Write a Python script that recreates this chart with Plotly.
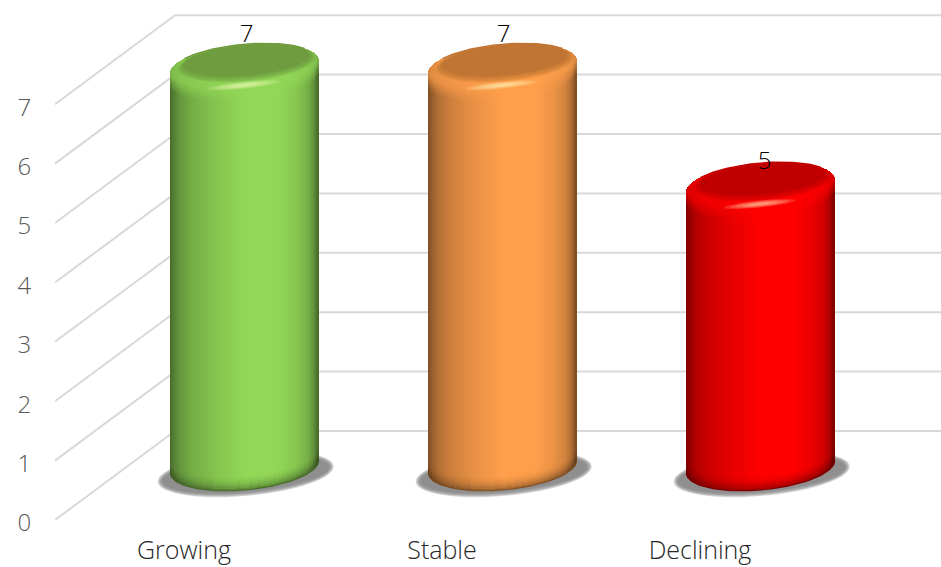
import numpy as np
import plotly.graph_objects as go

# Chart content
categories = ["Growing", "Stable", "Declining"]
values = [7, 7, 5]
y_ticks = [0, 1, 2, 3, 4, 5, 6, 7]
body_colors = [(146, 216, 87), (255, 159, 75), (255, 0, 0)]
cap_colors = [(111, 156, 62), (192, 117, 52), (192, 0, 0)]
label_lift_px = [23.5, 23.5, 16]
label_shift_px = [2, 1, 4]

# Pixels per axis unit, and the oblique depth of the floor
X_UNIT = 258.0
Y_UNIT = 59.4
PLOT_W = 886
LEFT, BOTTOM = 55, 34
DEPTH_X = 120 / X_UNIT
DEPTH_Y = 89 / Y_UNIT
X_RANGE = [-0.5, -0.5 + PLOT_W / X_UNIT]
Y_RANGE = [-13 / Y_UNIT, 520 / Y_UNIT]

# Cylinder proportions, in pixels
RADIUS = 74
TOP_B = 22.5
BASE_B = 23
SHEAR = 0.085
TOP_DROP = 7
BASE_RISE = 8.5

# Brightness across a cylinder wall, left edge to right edge
SHADE_U = [0, 0.03, 0.07, 0.15, 0.3, 0.5, 0.72, 0.85, 0.93, 0.97, 1]
SHADE_F = [0.50, 0.60, 0.70, 0.80, 0.90, 1.0, 1.0, 0.92, 0.82, 0.68, 0.48]


def center_x(i):
    return i + DEPTH_X / 2 + 0.7 / X_UNIT


def top_center(v):
    return v + DEPTH_Y / 2 - TOP_DROP / Y_UNIT


def base_center():
    return DEPTH_Y / 2 + BASE_RISE / Y_UNIT


def shaded(rgb, factor, light=0.0):
    f = min(1.0, factor + (1 - factor) * light)
    return "rgb(%d,%d,%d)" % tuple(int(round(c * f)) for c in rgb)


def ellipse(cx, cy, a, b, shear=SHEAR, n=90):
    t = np.linspace(0, 2 * np.pi, n)
    return (
        cx + a * np.cos(t) / X_UNIT,
        cy + (shear * a * np.cos(t) + b * np.sin(t)) / Y_UNIT,
    )


def svg_path(xs, ys):
    pts = ["%.5f,%.5f" % p for p in zip(xs, ys)]
    return "M" + " L".join(pts) + " Z"


# Every cylinder is a run of one-pixel columns, each split into shaded pieces
bar_x, bar_base, bar_h, bar_color = [], [], [], []


def add_piece(x, y0, y1, color):
    if y1 > y0:
        bar_x.append(x)
        bar_base.append(y0)
        bar_h.append(y1 - y0)
        bar_color.append(color)


for i, (v, rgb) in enumerate(zip(values, body_colors)):
    cx, ty, by = center_x(i), top_center(v), base_center()
    for ox in np.arange(-RADIUS, RADIUS) + 0.5:
        sq = np.sqrt(max(0.0, 1 - (ox / RADIUS) ** 2))
        f = float(np.interp((ox + RADIUS) / (2 * RADIUS), SHADE_U, SHADE_F))
        x = cx + ox / X_UNIT
        base_edge = by + (SHEAR * ox - BASE_B * sq) / Y_UNIT
        top_edge = ty + (SHEAR * ox + TOP_B * sq) / Y_UNIT
        front_edge = ty + (SHEAR * ox - TOP_B * sq) / Y_UNIT

        # darkening towards the rounded bottom edge
        y = base_edge
        for k in range(8):
            step = 2 / Y_UNIT
            add_piece(x, y, y + step, shaded(rgb, f * (0.62 + 0.38 * (1 - (1 - (k + 0.5) / 8) ** 2))))
            y += step
        # plain wall
        fade_start = front_edge - 12 / Y_UNIT
        add_piece(x, y, fade_start, shaded(rgb, f))
        y = max(y, fade_start)
        # lighter bevel just under the lid
        for k in range(7):
            step = 2 / Y_UNIT
            add_piece(x, y, y + step, shaded(rgb, f, 0.7 * (k + 0.5) / 7))
            y += step
        add_piece(x, y, top_edge, shaded(rgb, f, 0.7))

fig = go.Figure()
fig.add_trace(
    go.Bar(
        x=bar_x,
        y=bar_h,
        base=bar_base,
        width=1 / X_UNIT,
        marker=dict(color=bar_color, line=dict(width=0)),
        showlegend=False,
        hoverinfo="skip",
    )
)

# Lids, bevel and specular glint
for i, (v, rgb, cap) in enumerate(zip(values, body_colors, cap_colors)):
    cx, ty = center_x(i) + 2 / X_UNIT, top_center(v)
    for k in range(6, -1, -1):
        a = 63 + k * 0.9
        b = 15.5 + k * 0.5
        cy = ty + 6.5 / Y_UNIT - (k * 0.5) / Y_UNIT
        xs, ys = ellipse(cx, cy, a, b)
        alpha = 1.0 if k == 0 else 0.22
        fig.add_trace(
            go.Scatter(
                x=xs,
                y=ys,
                mode="lines",
                line=dict(width=0),
                fill="toself",
                fillcolor="rgba(%d,%d,%d,%.2f)" % (*cap, alpha),
                showlegend=False,
                hoverinfo="skip",
            )
        )
    # soft rim along the back edge of the lid
    t = np.linspace(0.2 * np.pi, 0.8 * np.pi, 50)
    ox = RADIUS * np.cos(t)
    fig.add_trace(
        go.Scatter(
            x=center_x(i) + ox / X_UNIT,
            y=ty + (SHEAR * ox + TOP_B * np.sin(t)) / Y_UNIT,
            mode="lines",
            line=dict(width=1.5, color="rgb(%d,%d,%d)" % cap),
            showlegend=False,
            hoverinfo="skip",
        )
    )
    # glint on the front of the bevel
    for k in range(5):
        xs, ys = ellipse(
            center_x(i) - 1 / X_UNIT,
            ty - 18.5 / Y_UNIT,
            36 - k * 6,
            3.6 - k * 0.6,
            shear=0.1,
        )
        fig.add_trace(
            go.Scatter(
                x=xs,
                y=ys,
                mode="lines",
                line=dict(width=0),
                fill="toself",
                fillcolor="rgba(255,255,200,0.16)",
                showlegend=False,
                hoverinfo="skip",
            )
        )

# Smooth line along the lower edge of each cylinder
for i, rgb in enumerate(body_colors):
    t = np.linspace(np.pi, 2 * np.pi, 80)
    ox = RADIUS * np.cos(t)
    fig.add_trace(
        go.Scatter(
            x=center_x(i) + ox / X_UNIT,
            y=base_center() + (SHEAR * ox + BASE_B * np.sin(t)) / Y_UNIT,
            mode="lines",
            line=dict(width=1.2, color=shaded(rgb, 0.5)),
            showlegend=False,
            hoverinfo="skip",
        )
    )

# Value labels above the lids
fig.add_trace(
    go.Scatter(
        x=[center_x(i) + s / X_UNIT for i, s in enumerate(label_shift_px)],
        y=[v + DEPTH_Y / 2 + lift / Y_UNIT for v, lift in zip(values, label_lift_px)],
        mode="text",
        text=[str(v) for v in values],
        textposition="middle center",
        textfont=dict(family="Open Sans", size=24, color="#000000", weight=300),
        showlegend=False,
        hoverinfo="skip",
    )
)

# Wall and side gridlines, and the soft floor shadows, sit behind the marks
shapes = []
for t in y_ticks:
    shapes.append(
        dict(type="line", xref="x", yref="y", layer="below",
             x0=X_RANGE[0], y0=t, x1=X_RANGE[0] + DEPTH_X, y1=t + DEPTH_Y,
             line=dict(color="#d9d9d9", width=2))
    )
    shapes.append(
        dict(type="line", xref="x", yref="y", layer="below",
             x0=X_RANGE[0] + DEPTH_X, y0=t + DEPTH_Y, x1=X_RANGE[1], y1=t + DEPTH_Y,
             line=dict(color="#d9d9d9", width=2))
    )
for i in range(len(categories)):
    for k in range(6):
        xs, ys = ellipse(
            center_x(i) + 1 / X_UNIT,
            base_center() - 7 / Y_UNIT,
            88 - k * 1.0,
            22 - k * 0.9,
        )
        shapes.append(
            dict(type="path", xref="x", yref="y", layer="below",
                 path=svg_path(xs, ys), line=dict(width=0),
                 fillcolor="rgba(130,130,130,0.3)")
        )

fig.update_layout(
    width=941,
    height=567,
    margin=dict(l=LEFT, r=0, t=0, b=BOTTOM, pad=0, autoexpand=False),
    paper_bgcolor="white",
    plot_bgcolor="white",
    barmode="overlay",
    bargap=0,
    showlegend=False,
    hovermode=False,
    shapes=shapes,
    xaxis=dict(
        range=X_RANGE,
        automargin=False,
        tickmode="array",
        tickvals=list(range(len(categories))),
        ticktext=categories,
        showgrid=False,
        zeroline=False,
        showline=False,
        ticks="",
        tickfont=dict(family="Open Sans", size=25, color="#262626", weight=300),
    ),
    yaxis=dict(
        range=Y_RANGE,
        automargin=False,
        tickmode="array",
        tickvals=y_ticks,
        showgrid=False,
        zeroline=False,
        showline=False,
        ticks="outside",
        ticklen=18,
        tickcolor="rgba(0,0,0,0)",
        ticklabelshift=3,
        tickfont=dict(family="Open Sans", size=24, color="#595959", weight=300),
    ),
)

fig.write_html("out.html", config=dict(displayModeBar=False))
